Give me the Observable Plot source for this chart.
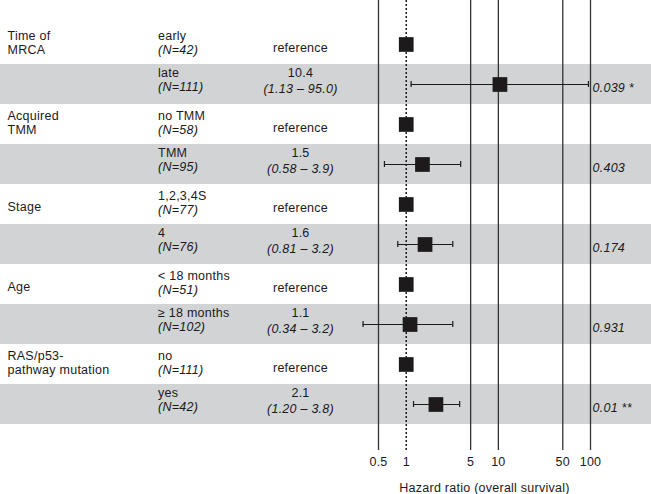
<!DOCTYPE html>
<html>
<head>
<meta charset="utf-8">
<script src="https://cdn.jsdelivr.net/npm/d3@7"></script>
<script src="https://cdn.jsdelivr.net/npm/@observablehq/plot@0.6"></script>
<style>
  html, body { margin: 0; padding: 0; background: #fff; }
  #chart svg text { letter-spacing: 0.25px; }
</style>
</head>
<body>
<div id="chart"></div>
<script>
// ---- data ----
const groups = ["Time of\nMRCA", "", "Acquired\nTMM", "", "Stage", "", "Age", "", "RAS/p53-\npathway mutation", ""];
const levels = ["early", "late", "no TMM", "TMM", "1,2,3,4S", "4", "< 18 months", "≥ 18 months", "no", "yes"];
const counts = [42, 111, 58, 95, 77, 76, 51, 102, 111, 42];
const hazardRatios = [1, 10.4, 1, 1.5, 1, 1.6, 1, 1.1, 1, 2.1];
const ciLow = [null, 1.13, null, 0.58, null, 0.81, null, 0.34, null, 1.20];
const ciHigh = [null, 95.0, null, 3.9, null, 3.2, null, 3.2, null, 3.8];
const pValues = ["", "0.039 *", "", "0.403", "", "0.174", "", "0.931", "", "0.01 **"];
const xTicks = [0.5, 1, 5, 10, 50, 100];
const xTickLabels = ["0.5", "1", "5", "10", "50", "100"];
const xLabel = "Hazard ratio (overall survival)";

// ---- table ----
const table = levels.map((lv, i) => ({
  row: i,
  shaded: i % 2 === 1,
  group: groups[i],
  levelN: `${lv}\n(N=${counts[i]})`,
  hr: hazardRatios[i],
  lo: ciLow[i],
  hi: ciHigh[i],
  isRef: ciLow[i] == null,
  hrLabel: ciLow[i] == null ? "reference" : hazardRatios[i].toFixed(1),
  ciLabel: ciLow[i] == null ? "" : `(${ciLow[i].toFixed(2)} – ${ciHigh[i].toFixed(1)})`,
  p: pValues[i]
}));
const withCI = table.filter(d => !d.isRef);
const ticksTable = xTicks.map((v, i) => ({v, label: xTickLabels[i]}));

const ink = "#1c1a1b";
const band = "#d1d3d4";
const font = "'Liberation Sans', Arial, Helvetica, sans-serif";
const fs = 12.5;
const lh = 14 / fs;
const W = 651, H = 494;
const mL = 378, mR = 61;
const txt = {fill: ink, fontSize: fs};

const chart = Plot.plot({
  width: W,
  height: H,
  marginLeft: mL,
  marginRight: mR,
  marginTop: 0,
  marginBottom: 44,
  style: {fontFamily: font, fontSize: fs + "px", color: ink, background: "#fff"},
  x: {type: "log", domain: [0.5, 100], axis: null},
  y: {type: "band", domain: table.map(d => d.row), range: [20.4, 427], padding: 0, axis: null},
  marks: [
    // alternating grey bands across full width
    Plot.rect(table.filter(d => d.shaded), {
      y: "row", fill: band, insetLeft: -mL, insetRight: -mR
    }),
    // vertical reference lines
    Plot.ruleX(xTicks.filter(d => d !== 1), {stroke: "#333", strokeWidth: 1.3}),
    Plot.ruleX([1], {stroke: ink, strokeWidth: 1.5, strokeDasharray: "2,2"}),
    // x tick labels and axis title
    Plot.text(ticksTable, {x: "v", text: "label", frameAnchor: "bottom", dy: 15, lineAnchor: "bottom", ...txt}),
    Plot.text([xLabel], {text: d => d, frameAnchor: "bottom", dy: 41, lineAnchor: "bottom", ...txt}),
    // confidence intervals
    Plot.ruleY(withCI, {y: "row", x1: "lo", x2: "hi", stroke: ink, strokeWidth: 1.2}),
    Plot.tickX(withCI, {x: "lo", y: "row", stroke: ink, strokeWidth: 1.2, insetTop: 17, insetBottom: 17}),
    Plot.tickX(withCI, {x: "hi", y: "row", stroke: ink, strokeWidth: 1.2, insetTop: 17, insetBottom: 17}),
    // point estimates
    Plot.dot(table, {x: "hr", y: "row", symbol: "square", r: 8.3, fill: ink, stroke: "none"}),
    // group labels
    Plot.text(table.filter(d => d.group.includes("\n")), {y: "row", text: "group", frameAnchor: "left", dx: 7 - mL, dy: 9.7, textAnchor: "start", lineAnchor: "bottom", lineHeight: lh, ...txt}),
    Plot.text(table.filter(d => d.group && !d.group.includes("\n")), {y: "row", text: "group", frameAnchor: "left", dx: 7 - mL, dy: 6.2, textAnchor: "start", lineAnchor: "bottom", ...txt}),
    // level + N
    Plot.text(table.filter(d => !d.shaded), {y: "row", text: "levelN", frameAnchor: "left", dx: 157.5 - mL, dy: 9.7, textAnchor: "start", lineAnchor: "bottom", lineHeight: lh, ...txt}),
    Plot.text(table.filter(d => d.shaded), {y: "row", text: "levelN", frameAnchor: "left", dx: 157.5 - mL, dy: 6.7, textAnchor: "start", lineAnchor: "bottom", lineHeight: lh, ...txt}),
    // hazard ratio and CI
    Plot.text(table.filter(d => d.isRef), {y: "row", text: "hrLabel", frameAnchor: "left", dx: 300 - mL, dy: 7.7, textAnchor: "middle", lineAnchor: "bottom", ...txt}),
    Plot.text(withCI, {y: "row", text: "hrLabel", frameAnchor: "left", dx: 300 - mL, dy: -7.3, textAnchor: "middle", lineAnchor: "bottom", ...txt}),
    Plot.text(withCI, {y: "row", text: "ciLabel", frameAnchor: "left", dx: 300 - mL, dy: 8.2, textAnchor: "middle", lineAnchor: "bottom", fontStyle: "italic", ...txt}),
    // p-values
    Plot.text(withCI, {x: () => 100, y: "row", text: "p", dx: 2, dy: 7.2, textAnchor: "start", lineAnchor: "bottom", fontStyle: "italic", ...txt})
  ]
});
// italicise the "(N=…)" second lines
d3.select(chart).selectAll("tspan")
  .filter(function () { return this.textContent.startsWith("(N="); })
  .attr("font-style", "italic");
document.getElementById("chart").appendChild(chart);
</script>
</body>
</html>
